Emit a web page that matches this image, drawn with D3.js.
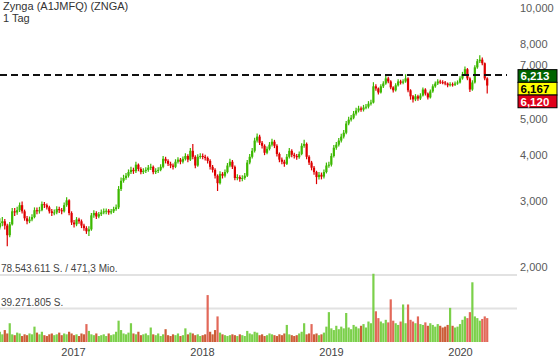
<!DOCTYPE html>
<html><head><meta charset="utf-8">
<script src="https://cdn.jsdelivr.net/npm/d3@7"></script>
<style>html,body{margin:0;padding:0;background:#fff;}svg{display:block;font-family:"Liberation Sans",Arial,sans-serif;}</style>
</head><body><svg id="c" width="560" height="363"></svg>
<script>
// ---- data (weekly) ----
const title = "Zynga (A1JMFQ) (ZNGA)";
const period = "1 Tag";
const startDate = new Date(2016, 5, 8);
const firstOpen = 2.55;
const closes = [
2.62,2.65,2.58,2.43,2.60,2.82,2.80,2.84,2.93,2.82,
2.70,2.65,2.68,2.72,2.84,2.82,2.84,2.95,2.93,2.89,
2.82,2.79,2.80,2.86,2.84,2.82,2.93,3.02,2.79,2.63,
2.60,2.68,2.65,2.58,2.54,2.49,2.52,2.75,2.79,2.73,
2.77,2.80,2.82,2.83,2.80,2.82,2.86,2.89,3.24,3.41,
3.47,3.52,3.60,3.65,3.62,3.77,3.67,3.60,3.63,3.65,
3.70,3.72,3.60,3.63,3.65,3.72,3.91,3.86,3.79,3.75,
3.72,3.84,3.89,3.84,3.91,3.98,3.89,4.11,3.96,3.75,
3.96,3.98,3.96,3.93,3.86,3.72,3.65,3.52,3.36,3.56,
3.52,3.60,3.75,3.84,3.72,3.47,3.49,3.45,3.47,3.52,
3.82,3.96,4.11,4.38,4.49,4.32,4.24,4.06,4.16,4.27,
4.35,4.24,4.03,3.89,3.84,3.79,3.96,4.11,4.01,3.98,
3.95,4.03,4.24,4.29,3.96,3.82,3.70,3.60,3.49,3.54,
3.50,3.60,3.75,3.77,3.98,4.19,4.27,4.38,4.49,4.60,
4.87,4.99,5.05,5.18,5.28,5.35,5.31,5.38,5.41,5.51,
5.55,6.14,6.06,5.91,6.14,6.25,6.45,6.33,6.10,5.99,
6.18,6.33,6.28,6.33,6.45,5.99,5.77,5.66,5.77,5.69,
5.80,6.02,5.87,5.73,5.95,6.14,6.25,6.33,6.30,6.29,
6.25,6.18,6.22,6.20,6.25,6.29,6.45,6.62,6.83,6.45,
6.02,6.29,6.91,7.18,7.25,7.09,6.45,6.17];
const highs = [
2.70,2.72,2.69,2.61,2.64,2.88,2.88,2.90,2.98,3.00,
2.85,2.74,2.73,2.77,2.89,2.89,2.90,3.00,2.99,2.96,
2.92,2.86,2.85,2.91,2.90,2.88,2.98,3.08,3.04,2.82,
2.67,2.72,2.71,2.68,2.61,2.57,2.57,2.79,2.84,2.82,
2.81,2.85,2.87,2.87,2.86,2.86,2.90,2.94,3.30,3.48,
3.54,3.58,3.66,3.72,3.70,3.84,3.80,3.71,3.69,3.71,
3.76,3.79,3.75,3.69,3.71,3.78,3.98,3.96,3.90,3.84,
3.80,3.90,3.95,3.93,3.97,4.05,4.02,4.18,4.29,4.00,
4.02,4.05,4.04,4.01,3.97,3.90,3.76,3.69,3.55,3.62,
3.60,3.66,3.81,3.91,3.88,3.75,3.55,3.53,3.53,3.58,
3.88,4.03,4.18,4.46,4.58,4.54,4.37,4.28,4.22,4.34,
4.43,4.40,4.28,4.07,3.94,3.89,4.03,4.18,4.15,4.06,
4.03,4.09,4.31,4.40,4.33,4.00,3.86,3.74,3.63,3.60,
3.59,3.66,3.82,3.84,4.05,4.26,4.34,4.45,4.57,4.68,
4.95,5.08,5.14,5.27,5.37,5.44,5.42,5.47,5.50,5.60,
5.65,6.30,6.22,6.10,6.22,6.34,6.62,6.52,6.38,6.14,
6.26,6.42,6.40,6.42,6.62,6.50,6.03,5.82,5.85,5.83,
5.88,6.10,6.07,5.91,6.02,6.22,6.33,6.42,6.40,6.38,
6.35,6.29,6.30,6.29,6.33,6.37,6.54,6.72,6.95,6.88,
6.50,6.38,7.00,7.28,7.45,7.35,7.12,6.50];
const lows = [
2.52,2.57,2.52,2.27,2.40,2.58,2.74,2.76,2.81,2.78,
2.66,2.60,2.62,2.65,2.70,2.77,2.78,2.82,2.88,2.85,
2.78,2.74,2.75,2.77,2.79,2.77,2.80,2.90,2.75,2.59,
2.55,2.57,2.61,2.54,2.50,2.45,2.42,2.50,2.71,2.69,
2.70,2.74,2.77,2.77,2.76,2.77,2.79,2.83,2.86,3.20,
3.37,3.43,3.48,3.56,3.56,3.58,3.62,3.55,3.56,3.58,
3.61,3.65,3.55,3.56,3.58,3.62,3.69,3.80,3.74,3.69,
3.66,3.69,3.80,3.78,3.80,3.87,3.83,3.86,3.90,3.69,
3.72,3.91,3.90,3.87,3.80,3.66,3.59,3.46,3.20,3.33,
3.46,3.48,3.57,3.71,3.67,3.42,3.42,3.39,3.40,3.43,
3.49,3.78,3.92,4.07,4.33,4.26,4.17,4.00,4.02,4.12,
4.22,4.18,3.97,3.83,3.78,3.72,3.76,3.92,3.95,3.92,
3.89,3.91,4.00,4.19,3.90,3.76,3.64,3.54,3.34,3.44,
3.44,3.46,3.57,3.70,3.73,3.94,4.14,4.22,4.33,4.44,
4.56,4.82,4.93,5.00,5.12,5.22,5.24,5.25,5.32,5.35,
5.45,5.52,5.97,5.84,5.87,6.08,6.20,6.26,6.03,5.91,
5.95,6.13,6.21,6.22,6.28,5.92,5.65,5.55,5.60,5.61,
5.64,5.76,5.80,5.66,5.69,5.90,6.09,6.19,6.23,6.22,
6.18,6.11,6.13,6.13,6.15,6.20,6.25,6.40,6.58,6.38,
5.93,5.97,6.25,6.85,7.10,7.00,6.38,5.87];
// volume in millions of shares
const volumes = [
12,9,14,10,22,9,8,11,10,7,
9,8,10,9,18,11,9,12,8,7,
9,10,8,9,11,8,10,9,12,10,
8,9,7,10,9,21,13,9,8,10,
7,8,9,7,10,8,9,12,25,14,
10,9,11,22,10,9,12,8,9,10,
8,17,9,8,10,7,9,15,8,7,
9,8,10,7,8,16,9,11,10,8,
9,7,8,9,55,12,9,14,30,11,
9,8,7,8,9,8,7,9,8,7,
13,10,9,12,11,8,9,7,8,10,
9,8,7,9,8,10,20,9,8,7,
8,10,12,22,9,10,21,9,10,8,
9,11,18,35,16,14,19,15,18,16,
34,17,15,20,18,16,19,21,17,24,
22,80,36,28,24,22,26,23,50,25,
22,20,24,44,22,44,26,24,22,30,
21,20,23,19,22,20,18,21,19,17,
18,20,40,19,17,18,21,26,30,28,
35,70,30,28,25,27,30,28];
const yTicks = [2,3,4,5,7,8,10];
const yearTicks = [2017,2018,2019,2020];
const quoteValues = [6.213, 6.167, 6.120];
const quoteColors = ["#006400", "#ffff00", "#e0001b"];
const quoteText = ["#ffffff", "#000000", "#ffffff"];
const refPrice = 6.59;
const volTop = 78543611;
const volHalf = 39271805;
const volTopLabel = "78.543.611 S. / 471,3 Mio.";
const volHalfLabel = "39.271.805 S.";

// ---- chart ----
const svg = d3.select("#c");
const de = d3.formatLocale({decimal:",", thousands:".", grouping:[3], currency:["","€"]});
const f3 = de.format(".3f");

const dates = closes.map((_, i) => d3.timeDay.offset(startDate, 7 * i));
const x = d3.scaleTime().domain([new Date(2017,0,1), new Date(2020,0,1)]).range([73, 460]);
const y = d3.scaleLog().domain([2, 10]).range([266.5, 8]);
const vY = d3.scaleLinear().domain([0, volTop]).range([342, 275]);

const green = "#3cb800", red = "#dd0000";

// title
svg.append("text").attr("x", 3).attr("y", 10).attr("font-size", 11).attr("fill", "#333").text(title);
svg.append("text").attr("x", 3).attr("y", 21.5).attr("font-size", 11).attr("fill", "#333").text(period);

// y axis (right)
const yAxis = d3.axisRight(y).tickValues(yTicks).tickFormat(d => f3(d)).tickSize(0).tickPadding(3);
const gy = svg.append("g").attr("transform", "translate(517,0)").call(yAxis);
gy.select(".domain").remove();
gy.selectAll("text").attr("font-size", 11).attr("fill", "#5a5a5a").attr("font-family", "Liberation Sans, Arial, sans-serif");

// volume grid lines + labels
[[volTop, volTopLabel], [volHalf, volHalfLabel]].forEach(([v, lab]) => {
  svg.append("line").attr("x1", 0).attr("x2", 517).attr("y1", vY(v)).attr("y2", vY(v))
    .attr("stroke", "#e2e2e2").attr("stroke-width", 2);
  svg.append("text").attr("x", 1).attr("y", vY(v) - 3).attr("font-size", 10).attr("fill", "#444").text(lab);
});

// data rows
const rows = closes.map((c, i) => ({
  d: dates[i], o: i === 0 ? firstOpen : closes[i - 1], c, h: highs[i], l: lows[i], v: volumes[i] * 1e6
}));

// volume bars
svg.append("g").selectAll("rect").data(rows).join("rect")
  .attr("x", r => x(r.d) - 1.1).attr("width", 2.2)
  .attr("y", r => vY(r.v)).attr("height", r => vY(0) - vY(r.v))
  .attr("fill", r => r.c >= r.o ? "#74cd40" : (r.v > 20e6 ? "#e06050" : "#c9542c"))
  .attr("opacity", 0.95);

// price bars
const gp = svg.append("g");
gp.selectAll("line").data(rows).join("line")
  .attr("x1", r => x(r.d)).attr("x2", r => x(r.d))
  .attr("y1", r => y(r.h)).attr("y2", r => y(r.l))
  .attr("stroke", r => r.c >= r.o ? green : red).attr("stroke-width", 1.2);
gp.selectAll("rect").data(rows).join("rect")
  .attr("x", r => x(r.d) - 1.1).attr("width", 2.2)
  .attr("y", r => y(Math.max(r.o, r.c)))
  .attr("height", r => Math.max(1, y(Math.min(r.o, r.c)) - y(Math.max(r.o, r.c))))
  .attr("fill", r => r.c >= r.o ? green : red);

// reference dashed line
svg.append("line").attr("x1", 0).attr("x2", 507).attr("y1", y(refPrice)).attr("y2", y(refPrice))
  .attr("stroke", "#111").attr("stroke-width", 2).attr("stroke-dasharray", "7,4");

// x axis
const xAxis = d3.axisBottom(x).tickValues(yearTicks.map(yr => new Date(yr, 0, 1)))
  .tickFormat(d3.timeFormat("%Y")).tickSize(0).tickPadding(0);
const gx = svg.append("g").attr("transform", "translate(0,348)").call(xAxis);
gx.select(".domain").remove();
gx.selectAll("text").attr("font-size", 11).attr("fill", "#444").attr("font-family", "Liberation Sans, Arial, sans-serif");

// quote boxes
const bh = 12.7, top0 = y(quoteValues[1]) - 16;
const gq = svg.append("g");
quoteValues.forEach((v, i) => {
  gq.append("rect").attr("x", 518).attr("y", top0 + i * bh).attr("width", 39).attr("height", bh)
    .attr("fill", quoteColors[i]).attr("stroke", "#000").attr("stroke-width", 1);
  gq.append("text").attr("x", 520.5).attr("y", top0 + i * bh + bh / 2).attr("dy", "0.36em")
    .attr("font-size", 11.5).attr("font-weight", "bold").attr("fill", quoteText[i]).text(f3(v));
});
</script></body></html>
